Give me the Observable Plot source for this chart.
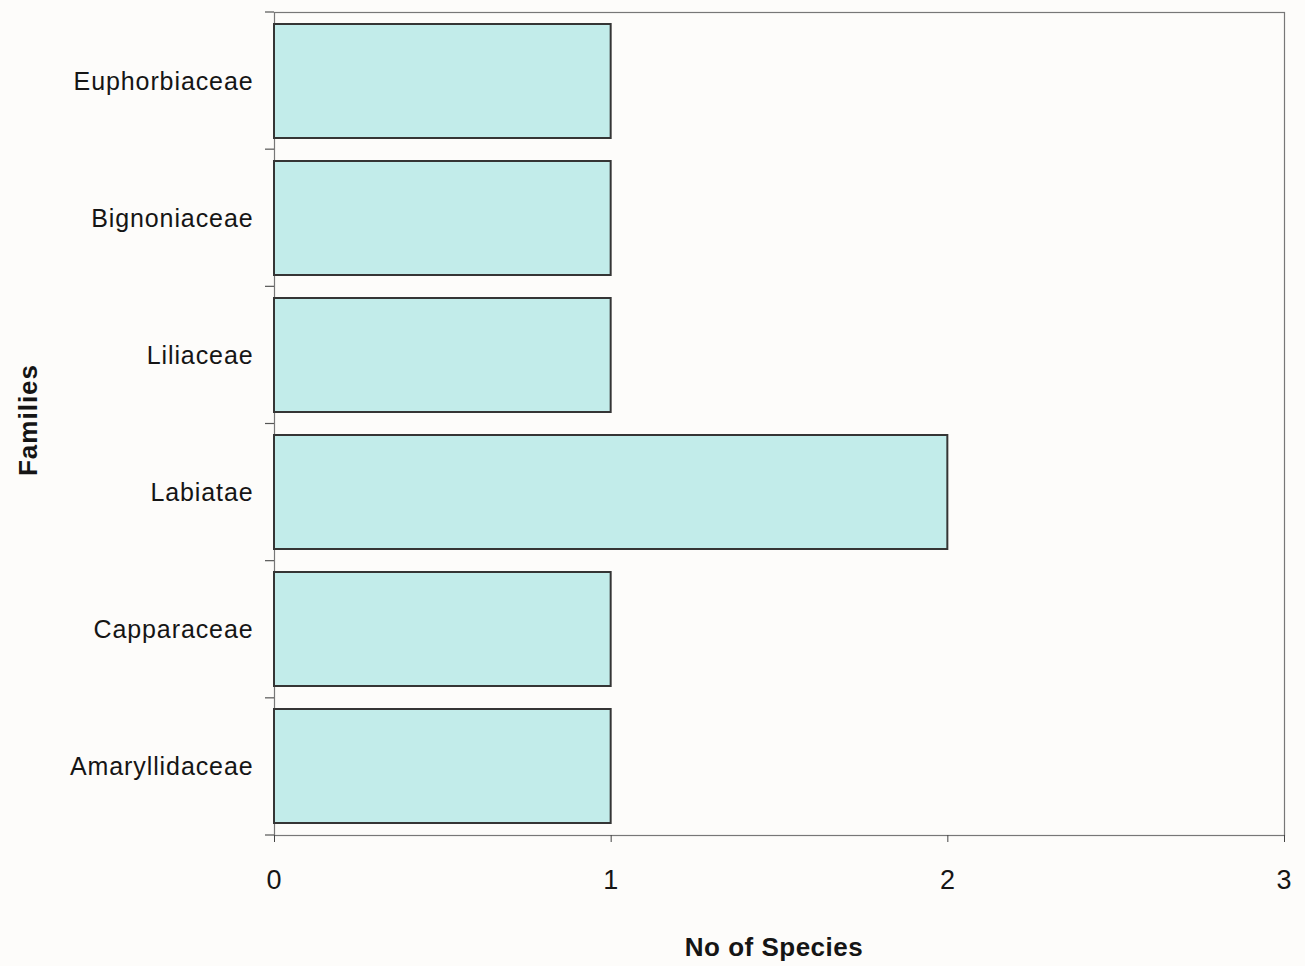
<!DOCTYPE html>
<html>
<head>
<meta charset="utf-8">
<script src="https://cdn.jsdelivr.net/npm/d3@7"></script>
<script src="https://cdn.jsdelivr.net/npm/@observablehq/plot@0.6"></script>
<style>
  html, body { margin: 0; padding: 0; background: #fdfcfa; }
  #chart { width: 1305px; height: 966px; }
  svg { font-family: "Liberation Sans", Arial, sans-serif; }
</style>
</head>
<body>
<div id="chart"></div>
<script>
const families = ["Euphorbiaceae", "Bignoniaceae", "Liliaceae", "Labiatae", "Capparaceae", "Amaryllidaceae"];
const species = [1, 1, 1, 2, 1, 1];
const xTicks = [0, 1, 2, 3];
const xLabel = "No of Species";
const yLabel = "Families";

const data = families.map((f, i) => ({family: f, count: species[i]}));

const chart = Plot.plot({
  width: 1305,
  height: 966,
  marginLeft: 274,
  marginRight: 21,
  marginTop: 12,
  marginBottom: 131,
  style: {background: "#fdfcfa", color: "#151515", fontSize: "25px", fontFamily: "Liberation Sans, Arial, sans-serif"},
  x: {domain: [0, 3], ticks: xTicks, label: null},
  y: {domain: families, paddingInner: 0.17, paddingOuter: 0.085, label: null},
  marks: [
    Plot.frame({stroke: "#777", strokeWidth: 1.2}),
    Plot.barX(data, {y: "family", x: "count", fill: "#c2ecea", stroke: "#353535", strokeWidth: 2}),
    Plot.axisX({ticks: xTicks, tickSize: 7, tickPadding: 27, fontSize: 27, stroke: "#444", tickFormat: d3.format("d")}),
    Plot.axisY({tickSize: 0, tickPadding: 21, fontSize: 25, label: null})
  ]
});

// band-boundary ticks on the y axis, placed with the library's y scale
const ys = chart.scale("y");
const [r0, r1] = ys.range;
const step = (r1 - r0) / families.length;
const svg = d3.select(chart);
const g = svg.append("g").attr("stroke", "#555").attr("stroke-width", 1.2);
for (let k = 0; k <= families.length; k++) {
  const yy = r0 + k * step;
  g.append("line").attr("x1", 265).attr("x2", 274).attr("y1", yy).attr("y2", yy);
}
svg.selectAll("text").attr("letter-spacing", "0.9px");

// axis titles
svg.append("text")
  .attr("x", 774).attr("y", 956)
  .attr("text-anchor", "middle")
  .attr("font-weight", "bold").attr("font-size", 26)
  .attr("letter-spacing", "0.5px")
  .attr("fill", "#151515")
  .text(xLabel);
svg.append("text")
  .attr("transform", "translate(37,420) rotate(-90)")
  .attr("text-anchor", "middle")
  .attr("font-weight", "bold").attr("font-size", 26)
  .attr("letter-spacing", "1px")
  .attr("fill", "#151515")
  .text(yLabel);

document.getElementById("chart").appendChild(chart);
</script>
</body>
</html>
